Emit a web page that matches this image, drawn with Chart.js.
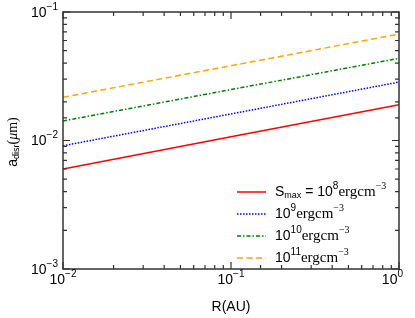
<!DOCTYPE html>
<html>
<head>
<meta charset="utf-8">
<script src="https://cdn.jsdelivr.net/npm/chart.js@4/dist/chart.umd.min.js"></script>
<style>
body{margin:0;background:#fff;}
</style>
</head>
<body>
<canvas id="myChart" width="415" height="318"></canvas>
<script>
// R in AU, a_disr in micron
const rValues = [0.01, 0.1, 1];
const aS8  = [6.0e-3, 1.07e-2, 1.9e-2];
const aS9  = [9.1e-3, 1.61e-2, 2.85e-2];
const aS10 = [1.42e-2, 2.49e-2, 4.36e-2];
const aS11 = [2.17e-2, 3.82e-2, 6.73e-2];
const sExp = [8, 9, 10, 11];
const xRange = [1e-2, 1];
const yRange = [1e-3, 1e-1];

const lineColors = ['#ff0000', '#0000ff', '#008000', '#ffa500'];
const lineDashes = [[], [1.5, 1.5], [4, 2, 1.5, 2], [6, 3.5]];

function pts(vals){
    return rValues.map((r, i) => ({x: r, y: vals[i]}));
}

const SANS = 'Liberation Sans, Arial, sans-serif';
const SERIF = 'Liberation Serif, Times New Roman, serif';

function isPow10(v){
    let l = Math.log10(v);
    return Math.abs(l - Math.round(l)) < 1e-6;
}

// draw 10^exp, x is the anchor according to align
function drawPow(ctx, exp, x, y, align){
    ctx.font = '14px ' + SANS;
    let w1 = ctx.measureText('10').width;
    let sup = (exp < 0 ? '\u2212' : '') + Math.abs(exp);
    ctx.font = '10px ' + SANS;
    let w2 = ctx.measureText(sup).width;
    let tot = w1 + w2;
    let x0 = align == 'right' ? x - tot : x - tot / 2;
    if (x0 + tot > 403) x0 = 403 - tot;
    ctx.textAlign = 'left';
    ctx.textBaseline = 'middle';
    ctx.font = '14px ' + SANS;
    ctx.fillText('10', x0, y);
    ctx.font = '10px ' + SANS;
    ctx.fillText(sup, x0 + w1, y - 6);
}

// draw a run of text pieces: [text, font, dy]
function drawRun(ctx, parts, x, y){
    ctx.textAlign = 'left';
    ctx.textBaseline = 'middle';
    parts.forEach(p => {
        ctx.font = p[1];
        ctx.fillText(p[0], x, y + p[2]);
        x += ctx.measureText(p[0]).width;
    });
    return x;
}

function runWidth(ctx, parts){
    let w = 0;
    parts.forEach(p => { ctx.font = p[1]; w += ctx.measureText(p[0]).width; });
    return w;
}

const framePlugin = {
    id: 'frame',
    afterDraw(chart){
        const ctx = chart.ctx;
        const a = chart.chartArea;
        const xs = chart.scales.x, ys = chart.scales.y;
        ctx.save();
        ctx.strokeStyle = '#333';
        ctx.lineWidth = 1.5;
        ctx.strokeRect(a.left, a.top, a.right - a.left, a.bottom - a.top);
        ctx.lineWidth = 1.2;
        ctx.fillStyle = '#000';
        // x ticks, bottom and top, pointing inward
        xs.ticks.forEach(t => {
            let px = xs.getPixelForValue(t.value);
            let major = isPow10(t.value);
            let len = major ? 7 : 4;
            ctx.beginPath();
            ctx.moveTo(px, a.bottom); ctx.lineTo(px, a.bottom - len);
            ctx.moveTo(px, a.top); ctx.lineTo(px, a.top + len);
            ctx.stroke();
            if (major) drawPow(ctx, Math.round(Math.log10(t.value)), px, a.bottom + 11, 'center');
        });
        ys.ticks.forEach(t => {
            let py = ys.getPixelForValue(t.value);
            let major = isPow10(t.value);
            let len = major ? 7 : 4;
            ctx.beginPath();
            ctx.moveTo(a.left, py); ctx.lineTo(a.left + len, py);
            ctx.moveTo(a.right, py); ctx.lineTo(a.right - len, py);
            ctx.stroke();
            if (major) drawPow(ctx, Math.round(Math.log10(t.value)), a.left - 5, py + 1, 'right');
        });

        // x title
        ctx.font = '14px ' + SANS;
        ctx.textAlign = 'center';
        ctx.textBaseline = 'middle';
        ctx.fillText('R(AU)', (a.left + a.right) / 2, 307);

        // y title, rotated
        let yt = [
            ['a', '14px ' + SANS, 0],
            ['disr', '9px ' + SANS, 4],
            ['(', '14px ' + SERIF, 0],
            ['\u03bc', 'italic 14px ' + SERIF, 0],
            ['m)', '14px ' + SERIF, 0]
        ];
        ctx.save();
        ctx.translate(13, 142);
        ctx.rotate(-Math.PI / 2);
        drawRun(ctx, yt, -runWidth(ctx, yt) / 2, 0);
        ctx.restore();

        // legend inside the plot
        let rowY = [192, 214, 236, 258];
        chart.data.datasets.forEach((ds, i) => {
            let y = rowY[i];
            ctx.save();
            ctx.strokeStyle = ds.borderColor;
            ctx.lineWidth = ds.borderWidth;
            ctx.setLineDash(ds.borderDash);
            ctx.beginPath();
            ctx.moveTo(237, y); ctx.lineTo(266, y);
            ctx.stroke();
            ctx.restore();
            let parts = [];
            if (i == 0) {
                parts.push(['S', '14px ' + SANS, 0]);
                parts.push(['max', '9px ' + SANS, 4]);
                parts.push([' = ', '14px ' + SANS, 0]);
            }
            parts.push(['10', '14px ' + SANS, 0]);
            parts.push([String(sExp[i]), '10px ' + SANS, -6]);
            parts.push(['ergcm', '15px ' + SERIF, 0]);
            parts.push(['\u22123', '10px ' + SERIF, -6]);
            drawRun(ctx, parts, 275, y);
        });
        ctx.restore();
    }
};

const seriesVals = [aS8, aS9, aS10, aS11];
const canvas = document.getElementById('myChart');
const chart = new Chart(canvas.getContext('2d'), {
    type: 'line',
    data: {
        datasets: seriesVals.map((v, i) => ({
            label: '10^' + sExp[i],
            data: pts(v),
            borderColor: lineColors[i],
            borderDash: lineDashes[i],
            borderWidth: 1.5,
            pointRadius: 0,
            tension: 0,
            fill: false
        }))
    },
    options: {
        responsive: false,
        animation: false,
        layout: {padding: {left: 55, top: 12, right: 16, bottom: 41}},
        plugins: {legend: {display: false}, tooltip: {enabled: false}},
        scales: {
            x: {
                type: 'logarithmic',
                min: xRange[0], max: xRange[1],
                grid: {display: false},
                border: {display: false},
                ticks: {display: false, autoSkip: false}
            },
            y: {
                type: 'logarithmic',
                min: yRange[0], max: yRange[1],
                grid: {display: false},
                border: {display: false},
                ticks: {display: false, autoSkip: false}
            }
        }
    },
    plugins: [framePlugin]
});
</script>
</body>
</html>
